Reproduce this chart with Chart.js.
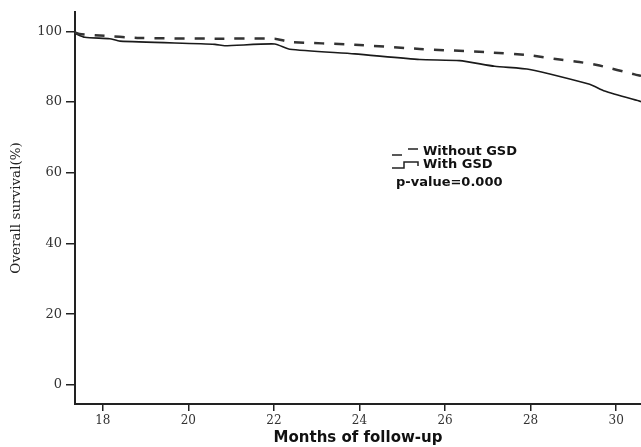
<!DOCTYPE html>
<html lang="en">
<head>
    <meta charset="UTF-8">
    <title>Overall survival</title>
    <script src="https://cdn.jsdelivr.net/npm/chart.js"></script>
    <style>
      body {
    margin: 0;
    padding: 0;
    background: #ffffff;
}

.wrap {
    width: 641px;
    height: 447px;
    position: relative;
}
    </style>
</head>
<body>
    <div class="wrap">
        <canvas id="survChart" width="641" height="447"></canvas>
    </div>
    <script>
        // months / survival (%)
        const withMonths = [17.35, 17.58, 18.16, 18.40, 20.62, 20.85, 22.02, 22.37, 23.89, 25.41, 26.34, 27.16, 27.98, 29.38, 29.73, 30.58];
        const withSurv   = [99.4, 98.3, 97.9, 97.2, 96.3, 95.9, 96.4, 94.9, 93.6, 92.0, 91.7, 90.1, 89.2, 85.0, 83.1, 80.1];
        const withoutMonths = [17.35, 17.46, 17.93, 18.86, 20.62, 22.02, 22.37, 23.89, 25.41, 26.93, 27.98, 28.68, 29.14, 29.61, 30.43, 30.58];
        const withoutSurv   = [99.7, 99.2, 98.8, 98.1, 97.9, 97.9, 97.0, 96.2, 95.0, 94.1, 93.2, 92.0, 91.3, 90.3, 87.8, 87.4];
        const xTicks = [18, 20, 22, 24, 26, 28, 30];
        const yTicks = [0, 20, 40, 60, 80, 100];

        const toPoints = (xs, ys) => xs.map((x, i) => ({ x: x, y: ys[i] }));

        // legend text and symbols in the plot
        const legendBox = {
            id: 'legendBox',
            afterDraw(chart) {
                const ctx = chart.ctx;
                ctx.save();
                ctx.strokeStyle = '#222';
                ctx.fillStyle = '#111';
                // dashed symbol
                ctx.lineWidth = 1.5;
                ctx.beginPath();
                ctx.moveTo(392, 155); ctx.lineTo(402, 155);
                ctx.moveTo(408, 149); ctx.lineTo(418, 149);
                ctx.stroke();
                // step symbol
                ctx.beginPath();
                ctx.moveTo(392, 168); ctx.lineTo(404, 168); ctx.lineTo(404, 162);
                ctx.lineTo(418, 162); ctx.lineTo(418, 166);
                ctx.stroke();
                ctx.font = 'bold 13px "DejaVu Sans"';
                ctx.textBaseline = 'middle';
                ctx.fillText('Without GSD', 423, 152);
                ctx.fillText('With GSD', 423, 165);
                ctx.fillText('p-value=0.000', 396, 183);
                ctx.restore();
            }
        };

        const ctx = document.getElementById('survChart').getContext('2d');
        const chart = new Chart(ctx, {
            type: 'line',
            data: {
                datasets: [
                    { label: 'Without GSD', data: toPoints(withoutMonths, withoutSurv), borderColor: '#333', borderWidth: 2.5, borderDash: [10, 10], pointRadius: 0, tension: 0.2, fill: false },
                    { label: 'With GSD', data: toPoints(withMonths, withSurv), borderColor: '#1a1a1a', borderWidth: 1.6, pointRadius: 0, tension: 0.2, fill: false }
                ]
            },
            options: {
                responsive: false,
                animation: false,
                layout: { padding: { top: 10, right: 0, left: 0, bottom: 0 } },
                plugins: { legend: { display: false }, tooltip: { enabled: false } },
                scales: {
                    x: {
                        type: 'linear',
                        min: 17.35,
                        max: 30.58,
                        afterBuildTicks: s => { s.ticks = xTicks.map(v => ({ value: v })); },
                        afterFit: s => { s.height = 43; },
                        grid: { drawOnChartArea: false, drawTicks: true, tickLength: 7, color: '#222', lineWidth: 1.5 },
                        border: { display: true, color: '#222', width: 2 },
                        ticks: { font: { family: 'DejaVu Serif', size: 12 }, color: '#333', padding: 3, maxRotation: 0 },
                        title: { display: true, text: 'Months of follow-up', font: { family: 'DejaVu Sans', size: 15, weight: 'bold' }, color: '#111', padding: { top: 2, bottom: 0 } }
                    },
                    y: {
                        min: -5.4,
                        max: 105.5,
                        afterBuildTicks: s => { s.ticks = yTicks.map(v => ({ value: v })); },
                        afterFit: s => { s.width = 75; },
                        grid: { drawOnChartArea: false, drawTicks: true, tickLength: 9, color: '#222', lineWidth: 1.5 },
                        border: { display: true, color: '#222', width: 2 },
                        ticks: { font: { family: 'DejaVu Serif', size: 13 }, color: '#333', padding: 4 },
                        title: { display: true, text: 'Overall survival(%)', font: { family: 'DejaVu Serif', size: 13.5 }, color: '#222', padding: { top: 8, bottom: 0 } }
                    }
                }
            },
            plugins: [legendBox]
        });
    </script>
</body>
</html>
